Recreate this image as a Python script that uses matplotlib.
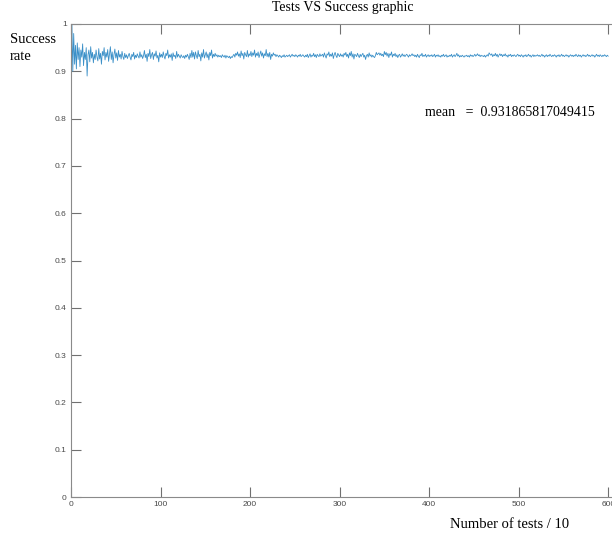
import numpy as np
import matplotlib.pyplot as plt

# success rate per block of 10 tests
success_rate = [
    1.000, 0.900, 0.980, 0.915, 0.955, 0.905, 0.960, 0.925, 0.950, 0.910, 0.945, 0.930, 0.958, 0.912, 0.940, 0.925, 0.950, 0.890, 0.935, 0.945,
    0.920, 0.952, 0.928, 0.940, 0.918, 0.936, 0.925, 0.945, 0.930, 0.922, 0.948, 0.926, 0.938, 0.915, 0.942, 0.933, 0.950, 0.924, 0.940, 0.930,
    0.946, 0.921, 0.937, 0.952, 0.925, 0.941, 0.918, 0.935, 0.947, 0.928, 0.939, 0.923, 0.944, 0.930, 0.936, 0.926, 0.942, 0.931, 0.925, 0.938,
    0.929, 0.935, 0.927, 0.933, 0.938, 0.930, 0.924, 0.936, 0.931, 0.940, 0.926, 0.934, 0.929, 0.937, 0.932, 0.928, 0.941, 0.930, 0.935, 0.927,
    0.933, 0.944, 0.929, 0.936, 0.921, 0.938, 0.931, 0.946, 0.927, 0.935, 0.940, 0.925, 0.937, 0.932, 0.943, 0.928, 0.934, 0.920, 0.939, 0.930,
    0.936, 0.929, 0.941, 0.932, 0.926, 0.938, 0.933, 0.945, 0.928, 0.935, 0.930, 0.937, 0.923, 0.939, 0.931, 0.934, 0.927, 0.942, 0.930, 0.936,
    0.932, 0.928, 0.935, 0.931, 0.929, 0.933, 0.927, 0.934, 0.930, 0.936, 0.931, 0.925, 0.938, 0.929, 0.944, 0.930, 0.940, 0.926, 0.941, 0.933,
    0.927, 0.944, 0.931, 0.936, 0.922, 0.939, 0.930, 0.946, 0.928, 0.935, 0.941, 0.929, 0.937, 0.924, 0.940, 0.933, 0.945, 0.928, 0.936, 0.931,
    0.938, 0.932, 0.935, 0.930, 0.934, 0.931, 0.933, 0.929, 0.935, 0.932, 0.930, 0.934, 0.928, 0.933, 0.931, 0.929, 0.932, 0.927, 0.931, 0.929,
    0.933, 0.936, 0.930, 0.938, 0.934, 0.941, 0.932, 0.937, 0.929, 0.943, 0.933, 0.938, 0.926, 0.940, 0.935, 0.931, 0.944, 0.930, 0.937, 0.933,
    0.942, 0.931, 0.939, 0.934, 0.945, 0.930, 0.938, 0.933, 0.941, 0.929, 0.936, 0.943, 0.932, 0.939, 0.928, 0.937, 0.933, 0.946, 0.931, 0.938,
    0.930, 0.940, 0.925, 0.936, 0.932, 0.939, 0.934, 0.936, 0.931, 0.935, 0.933, 0.930, 0.934, 0.932, 0.929, 0.933, 0.931, 0.935, 0.930, 0.932,
    0.934, 0.931, 0.933, 0.935, 0.930, 0.933, 0.936, 0.932, 0.934, 0.931, 0.935, 0.933, 0.930, 0.934, 0.932, 0.936, 0.931, 0.933, 0.935, 0.932,
    0.930, 0.934, 0.931, 0.936, 0.929, 0.933, 0.937, 0.930, 0.934, 0.932, 0.938, 0.931, 0.935, 0.929, 0.936, 0.933, 0.931, 0.937, 0.932, 0.934,
    0.936, 0.930, 0.939, 0.933, 0.928, 0.937, 0.934, 0.941, 0.931, 0.936, 0.932, 0.939, 0.927, 0.935, 0.940, 0.933, 0.929, 0.938, 0.934, 0.931,
    0.937, 0.932, 0.935, 0.930, 0.938, 0.934, 0.940, 0.931, 0.936, 0.928, 0.939, 0.933, 0.942, 0.930, 0.937, 0.926, 0.936, 0.934, 0.931, 0.938,
    0.933, 0.929, 0.936, 0.931, 0.935, 0.938, 0.930, 0.934, 0.925, 0.933, 0.936, 0.930, 0.939, 0.932, 0.935, 0.930, 0.934, 0.931, 0.929, 0.933,
    0.940, 0.935, 0.937, 0.939, 0.934, 0.938, 0.933, 0.936, 0.931, 0.942, 0.935, 0.940, 0.932, 0.938, 0.929, 0.937, 0.934, 0.941, 0.930, 0.936,
    0.933, 0.938, 0.931, 0.935, 0.929, 0.934, 0.936, 0.930, 0.933, 0.937, 0.932, 0.935, 0.931, 0.934, 0.936, 0.933, 0.930, 0.935, 0.932, 0.934,
    0.937, 0.933, 0.935, 0.931, 0.934, 0.930, 0.936, 0.932, 0.929, 0.935, 0.933, 0.938, 0.931, 0.934, 0.932, 0.936, 0.930, 0.933, 0.935, 0.931,
    0.934, 0.932, 0.935, 0.931, 0.933, 0.936, 0.930, 0.934, 0.932, 0.935, 0.931, 0.933, 0.930, 0.934, 0.932, 0.936, 0.931, 0.933, 0.935, 0.930,
    0.933, 0.931, 0.934, 0.932, 0.936, 0.930, 0.933, 0.935, 0.931, 0.934, 0.938, 0.932, 0.935, 0.930, 0.933, 0.931, 0.934, 0.932, 0.930, 0.933,
    0.932, 0.934, 0.931, 0.933, 0.930, 0.935, 0.932, 0.934, 0.931, 0.933, 0.936, 0.932, 0.934, 0.937, 0.933, 0.935, 0.931, 0.934, 0.932, 0.933,
    0.931, 0.934, 0.930, 0.933, 0.935, 0.932, 0.939, 0.936, 0.934, 0.937, 0.931, 0.935, 0.933, 0.938, 0.932, 0.936, 0.930, 0.934, 0.937, 0.933,
    0.936, 0.931, 0.935, 0.933, 0.937, 0.932, 0.934, 0.930, 0.935, 0.933, 0.936, 0.931, 0.934, 0.932, 0.935, 0.933, 0.931, 0.934, 0.936, 0.932,
    0.934, 0.931, 0.935, 0.933, 0.930, 0.934, 0.932, 0.935, 0.931, 0.933, 0.936, 0.932, 0.934, 0.930, 0.933, 0.935, 0.931, 0.934, 0.932, 0.933,
    0.935, 0.932, 0.934, 0.931, 0.933, 0.936, 0.932, 0.934, 0.930, 0.933, 0.935, 0.931, 0.934, 0.932, 0.936, 0.933, 0.931, 0.934, 0.932, 0.935,
    0.933, 0.930, 0.934, 0.932, 0.935, 0.931, 0.933, 0.936, 0.932, 0.934, 0.931, 0.933, 0.935, 0.932, 0.934, 0.930, 0.933, 0.935, 0.932, 0.934,
    0.931, 0.934, 0.932, 0.936, 0.933, 0.931, 0.935, 0.932, 0.934, 0.930, 0.933, 0.935, 0.932, 0.934, 0.931, 0.933, 0.936, 0.932, 0.934, 0.931,
    0.933, 0.935, 0.932, 0.934, 0.930, 0.933, 0.936, 0.932, 0.934, 0.931, 0.935, 0.933, 0.931, 0.934, 0.932, 0.935, 0.933, 0.931, 0.934, 0.932,
]
tests = np.arange(1, len(success_rate) + 1)
mean_label = 'mean   =  0.931865817049415'

serif = 'Liberation Serif'

fig = plt.figure(figsize=(6.12, 5.43), dpi=100)
ax = fig.add_axes([71 / 612, 46 / 543, 573 / 612, 473 / 543])

ax.plot(tests, success_rate, color='#3b90c8', lw=0.6)

ax.set_xlim(0, 640)
ax.set_ylim(0, 1)
ax.set_xticks(np.arange(0, 700, 100))
ax.set_yticks(np.arange(0, 1.01, 0.1))
ax.set_yticklabels(['0', '0.1', '0.2', '0.3', '0.4', '0.5', '0.6', '0.7', '0.8', '0.9', '1'])

ax.tick_params(direction='in', length=7, width=0.8, color='#707070',
               labelsize=6, labelcolor='#4a4a4a', top=True, right=True, pad=3)
for lab in ax.get_xticklabels() + ax.get_yticklabels():
    lab.set_fontname('Liberation Sans')
for s in ax.spines.values():
    s.set_color('#8a8a8a')
    s.set_linewidth(0.8)

fig.text(343 / 612, 1 - 10.5 / 543, 'Tests VS Success graphic', family=serif,
         fontsize=10, ha='center', va='baseline')
fig.text(10 / 612, 1 - 48 / 543, 'Success\nrate', family=serif,
         fontsize=10.5, ha='left', va='center', linespacing=1.4)
fig.text(510 / 612, 1 - 112 / 543, mean_label, family=serif,
         fontsize=10, ha='center', va='center')
fig.text(510 / 612, 1 - 525 / 543, 'Number of tests / 10', family=serif,
         fontsize=10.5, ha='center', va='center')

fig.savefig('out.png', dpi=100)
